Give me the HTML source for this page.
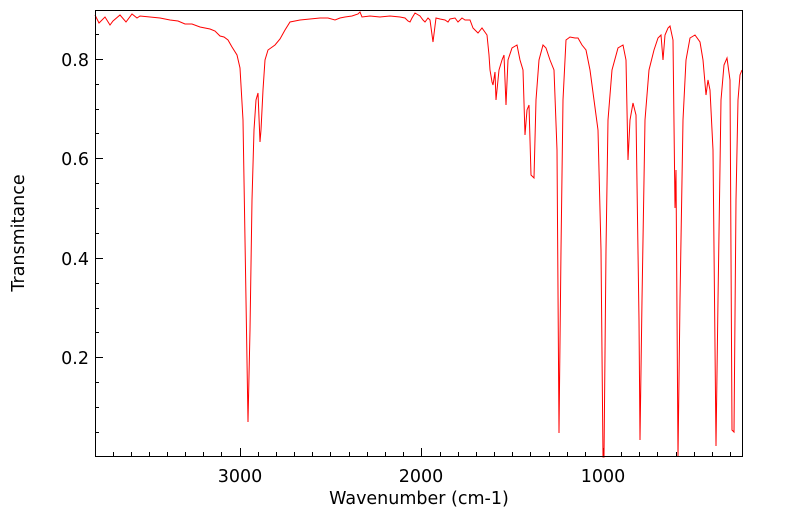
<!DOCTYPE html>
<html><head><meta charset="utf-8"><style>body{margin:0;background:#fff}svg{display:block}text{font-family:"DejaVu Sans","Liberation Sans",sans-serif;font-size:17.5px;fill:#000}</style></head>
<body>
<svg width="799" height="516" viewBox="0 0 799 516">
<g stroke="#000" stroke-width="1">
<path d="M131.5 456v-4M149.5 456v-4M167.5 456v-4M185.5 456v-4M203.5 456v-4M221.5 456v-4M240.5 456v-8M258.5 456v-4M276.5 456v-4M294.5 456v-4M312.5 456v-4M330.5 456v-4M349.5 456v-4M367.5 456v-4M385.5 456v-4M403.5 456v-4M421.5 456v-8M440.5 456v-4M458.5 456v-4M476.5 456v-4M494.5 456v-4M512.5 456v-4M530.5 456v-4M549.5 456v-4M567.5 456v-4M585.5 456v-4M603.5 456v-8M621.5 456v-4M639.5 456v-4M657.5 456v-4M676.5 456v-4M694.5 456v-4M712.5 456v-4M730.5 456v-4M113.5 456v-4"/>
<path d="M95 34.5h4M95 59.5h8M95 84.5h4M95 109.5h4M95 133.5h4M95 158.5h8M95 183.5h4M95 208.5h4M95 233.5h4M95 258.5h8M95 283.5h4M95 308.5h4M95 332.5h4M95 357.5h8M95 382.5h4M95 407.5h4M95 432.5h4"/>
</g>
<polyline fill="none" stroke="#f00" stroke-width="1" points="95,15 99,23 105,17 110,25 113,21 120,15 126,22 132,14 137,18 140,16 150,17 160,18 170,20 178,21 185,24 192,24 200,27 210,29 215,31 220,36 224,37 228,40 232,47 237,55 240,68 243,120 246,300 248,422 250,330 252,200 254,130 256,100 258,93 260,142 261,130 263,90 265,60 268,50 275,45 280,39 285,30 290,22 295,21 300,20 310,19 320,18 328,18 335,20 340,18 345,17 352,16 358,14 360,12 362,17 370,16 380,17 390,16 400,17 405,18 408,21 410,22 412,18 415,13 420,16 423,20 425,22 428,18 430,20 433,42 436,18 440,19 445,20 448,22 450,19 455,18 458,22 462,18 465,20 470,20 473,28 475,30 478,33 482,28 487,35 489,55 490,70 492,82 493,85 495,72 496,100 499,70 502,60 504,55 506,105 508,60 512,48 517,45 520,60 523,70 525,135 527,110 529,105 531,175 534,178 536,100 539,60 543,45 546,48 550,60 554,70 557,150 559,433 561,250 563,100 566,40 570,37 575,38 578,38 582,45 586,50 590,70 594,100 598,130 601,250 603,457 604,457 606,250 608,120 612,70 618,48 623,45 626,60 628,160 630,120 633,103 636,115 639,320 640,440 642,300 645,120 649,70 654,50 658,38 661,35 663,60 665,35 668,28 670,26 673,40 675,208 676,170 678,457 680,300 683,120 686,60 690,38 695,35 700,42 703,60 706,95 708,80 710,90 713,150 716,446 718,300 721,100 724,65 727,58 730,80 732,430 734,432 736,200 738,100 740,75 742,70"/>
<rect x="95.5" y="10.5" width="647" height="446" fill="none" stroke="#000" stroke-width="1"/>
<g text-anchor="end"><text x="89" y="66">0.8</text><text x="89" y="165">0.6</text><text x="89" y="265">0.4</text><text x="89" y="364">0.2</text></g>
<g text-anchor="middle"><text x="240" y="482">3000</text><text x="421" y="482">2000</text><text x="603" y="482">1000</text>
<text x="419" y="504">Wavenumber (cm-1)</text>
<text transform="translate(24,233) rotate(-90)">Transmitance</text></g>
</svg>
</body></html>
